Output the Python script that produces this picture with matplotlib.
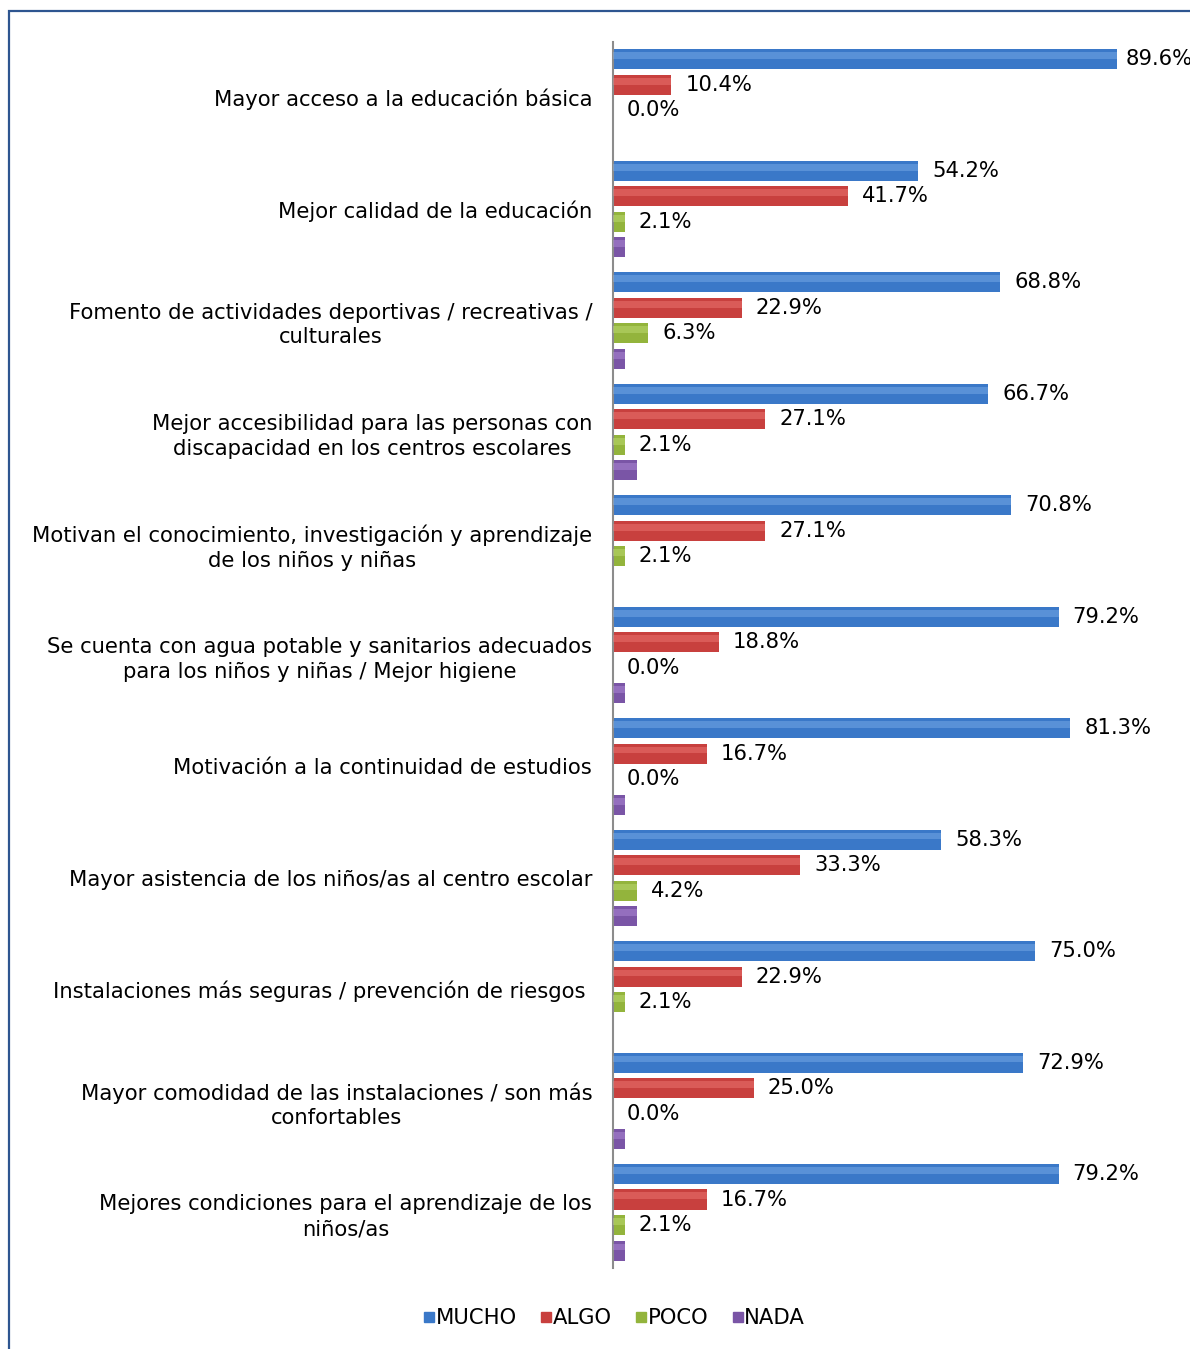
import numpy as np
import matplotlib
matplotlib.use("Agg")
import matplotlib.pyplot as plt
from matplotlib.patches import Rectangle
from matplotlib.lines import Line2D

plt.rcParams['font.family'] = ['DejaVu Sans']

categories = [
    "Mayor acceso a la educación básica",
    "Mejor calidad de la educación",
    "Fomento de actividades deportivas / recreativas /\nculturales",
    "Mejor accesibilidad para las personas con\ndiscapacidad en los centros escolares",
    "Motivan el conocimiento, investigación y aprendizaje\nde los niños y niñas",
    "Se cuenta con agua potable y sanitarios adecuados\npara los niños y niñas / Mejor higiene",
    "Motivación a la continuidad de estudios",
    "Mayor asistencia de los niños/as al centro escolar",
    "Instalaciones más seguras / prevención de riesgos ",
    "Mayor comodidad de las instalaciones / son más\nconfortables",
    "Mejores condiciones para el aprendizaje de los\nniños/as",
]
series_names = ["MUCHO", "ALGO", "POCO", "NADA"]
mucho = [89.6, 54.2, 68.8, 66.7, 70.8, 79.2, 81.3, 58.3, 75.0, 72.9, 79.2]
algo = [10.4, 41.7, 22.9, 27.1, 27.1, 18.8, 16.7, 33.3, 22.9, 25.0, 16.7]
poco = [0.0, 2.1, 6.3, 2.1, 2.1, 0.0, 0.0, 4.2, 2.1, 0.0, 2.1]
nada = [0.0, 2.1, 2.1, 4.2, 0.0, 2.1, 2.1, 4.2, 0.0, 2.1, 2.1]
show_labels = [True, True, True, False]

colors = ["#3a78c8", "#c8403e", "#93b43c", "#7a55a6"]
highlights = ["#7fb0ea", "#f07c79", "#c3e07a", "#b48fdc"]

fig = plt.figure(figsize=(11.9, 13.49), dpi=100)
ax = fig.add_axes([613 / 1190, 1 - 1268 / 1349, 562.5 / 1190, (1268 - 42) / 1349])

n = len(categories)
base = np.arange(n)
step = 0.229
bh = 0.18
fs = 15.2

for j, vals in enumerate([mucho, algo, poco, nada]):
    y = base + (j - 1.5) * step
    vals = np.array(vals)
    ax.barh(y, vals, height=bh, color=colors[j], edgecolor="none", zorder=2)
    # lighter upper band to mimic the bevelled look
    ax.barh(y - bh * 0.18, vals, height=bh * 0.34, color=highlights[j],
            edgecolor="none", alpha=0.45, zorder=3)
    if show_labels[j]:
        for yy, v in zip(y, vals):
            # labels near the right edge sit a bit closer to the bar
            off = 1.6 if v > 85 else 2.5
            ax.text(v + off, yy, f"{v:.1f}%", va="center", ha="left",
                    fontsize=fs, color="black", zorder=4)

ax.set_xlim(0, 100)
ax.set_ylim(n - 0.5, -0.5)
ax.set_yticks(base)
ax.set_yticklabels(categories, fontsize=fs, multialignment="center",
                   linespacing=1.3)
ax.tick_params(axis="y", length=0, pad=15)
ax.set_xticks([])
for s in ["top", "right", "bottom"]:
    ax.spines[s].set_visible(False)
ax.spines["left"].set_color("#8c8c8c")
ax.spines["left"].set_linewidth(1.5)

handles = [Line2D([0], [0], marker="s", linestyle="none", markersize=7,
                  markerfacecolor=c, markeredgecolor=c) for c in colors]
fig.legend(handles, series_names, loc="center", ncol=4,
           bbox_to_anchor=(612 / 1190, 1 - 1318 / 1349), frameon=False,
           fontsize=fs, handletextpad=-0.2, columnspacing=0.9,
           handlelength=1.0)

# outer frame (cut by the image edge on the right and bottom)
fig.patches.append(Rectangle((9 / 1190, -0.05), 1.2, 1 - 11 / 1349 + 0.05,
                             transform=fig.transFigure, fill=False,
                             edgecolor="#2e5590", linewidth=1.6))

fig.savefig("out.png", dpi=100)
